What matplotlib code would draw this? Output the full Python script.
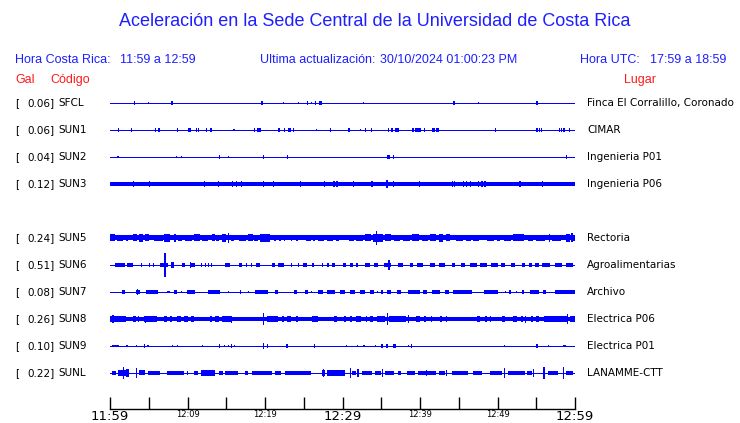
import matplotlib
matplotlib.use("Agg")
import matplotlib.pyplot as plt
import matplotlib.transforms as mtransforms

# station table
codes = ["SFCL", "SUN1", "SUN2", "SUN3", "SUN5", "SUN6", "SUN7", "SUN8", "SUN9", "SUNL"]
gal = ["0.06", "0.06", "0.04", "0.12", "0.24", "0.51", "0.08", "0.26", "0.10", "0.22"]
places = ["Finca El Corralillo, Coronado", "CIMAR", "Ingenieria P01", "Ingenieria P06",
          "Rectoria", "Agroalimentarias", "Archivo", "Electrica P06", "Electrica P01", "LANAMME-CTT"]
slots = [0, 1, 2, 3, 5, 6, 7, 8, 9, 10]          # SUN4 missing
base_amp = [0, 0, 0, 2.3, 2.5, 0, 0, 2.0, 0, 0]  # half-width of the noise band (px)

# bursts: (start minute, end minute, half amplitude px)
sfcl_bursts = [(3.2, 3.2, 1.3), (5.0, 5.0, 0.8), (8.0, 8.0, 1.3), (19.5, 19.8, 2.0), (22.4, 22.4, 0.8),
               (24.3, 24.3, 0.8), (25.5, 25.5, 1.3), (26.0, 26.0, 0.8), (26.5, 26.5, 1.3), (27.0, 27.3, 1.3),
               (32.7, 32.7, 0.8), (44.4, 44.4, 1.3), (47.5, 47.5, 0.8), (55.1, 55.1, 1.3)]
sun1_bursts = [(1.1, 1.1, 1.3), (2.7, 2.9, 1.3), (5.9, 5.9, 1.3), (6.2, 6.5, 1.3), (8.7, 8.7, 1.3),
               (10.0, 10.5, 1.3), (11.2, 11.2, 1.3), (11.4, 11.4, 1.3), (12.5, 12.5, 1.3), (12.9, 13.2, 1.3),
               (16.0, 16.0, 0.8), (18.6, 18.6, 1.3), (19.0, 19.5, 1.3), (21.8, 21.8, 1.3), (22.5, 22.5, 1.3),
               (23.0, 23.3, 1.3), (23.7, 23.7, 1.3), (26.6, 26.6, 0.8), (28.5, 28.5, 1.3), (30.7, 31.0, 1.3),
               (32.3, 32.3, 0.8), (33.0, 33.0, 1.3), (33.7, 33.7, 1.3), (35.9, 35.9, 1.3), (36.4, 36.4, 1.3),
               (36.8, 37.3, 1.3), (39.1, 39.1, 1.3), (39.4, 40.1, 1.3), (40.6, 40.6, 1.3), (41.6, 41.9, 1.3),
               (42.1, 42.4, 1.3), (49.7, 49.7, 1.3), (55.1, 55.1, 1.3), (55.4, 55.4, 1.3), (55.7, 55.7, 1.3),
               (58.0, 58.0, 1.3), (58.3, 58.3, 1.3), (58.4, 58.7, 1.3), (59.3, 59.3, 1.3)]
sun2_bursts = [(0.9, 1.2, 1.0), (8.6, 8.6, 0.8), (9.2, 9.2, 0.8), (14.1, 14.1, 1.3), (15.2, 15.4, 1.0),
               (19.8, 19.8, 1.3), (22.9, 22.9, 1.3), (35.8, 36.1, 2.0), (36.6, 36.6, 1.3), (58.9, 58.9, 1.3)]
sun3_bursts = [(3.0, 3.0, 2.3), (5.1, 5.1, 2.3), (12.2, 12.2, 2.3), (14.0, 14.0, 2.6), (15.8, 15.8, 3.0),
               (16.3, 16.3, 2.6), (17.0, 17.0, 2.6), (19.8, 19.8, 3.1), (21.1, 21.1, 2.3), (24.6, 24.6, 2.3),
               (27.7, 27.7, 2.3), (28.9, 28.9, 2.6), (29.3, 29.3, 2.3), (31.4, 31.4, 2.3), (33.8, 33.8, 2.3),
               (35.6, 35.9, 3.6), (36.6, 36.6, 2.8), (39.9, 39.9, 2.3), (44.2, 44.2, 2.3), (44.5, 44.5, 2.3),
               (45.6, 45.6, 2.3), (46.0, 46.0, 2.3), (46.5, 46.5, 2.3), (47.5, 47.5, 2.3), (48.0, 48.0, 2.3),
               (48.4, 48.4, 2.3), (52.9, 52.9, 2.3), (55.8, 55.8, 2.3)]
sun5_bursts = [(0.0, 0.6, 3.2), (0.9, 1.7, 3.0), (2.0, 2.3, 2.8), (3.0, 3.5, 3.2), (3.7, 4.3, 3.8), (4.5, 5.0, 3.2),
               (5.7, 6.8, 3.0), (7.0, 7.8, 3.3), (8.2, 8.5, 3.8), (8.8, 9.3, 3.0), (9.7, 10.6, 3.0), (10.9, 11.6, 3.2),
               (11.9, 12.7, 3.0), (13.1, 13.5, 3.2), (13.7, 14.0, 2.8), (14.4, 15.0, 3.3), (15.3, 15.3, 4.6),
               (15.6, 16.0, 3.0), (16.6, 17.6, 3.0), (17.8, 18.4, 3.2), (18.6, 19.1, 3.0), (19.4, 20.6, 3.3),
               (21.2, 21.4, 2.8), (21.8, 22.0, 2.8), (22.4, 22.6, 2.8), (23.3, 23.5, 2.8), (24.0, 24.2, 2.8),
               (25.3, 25.9, 3.0), (26.2, 26.5, 3.0), (26.9, 27.6, 3.0), (28.0, 28.8, 2.8), (29.1, 29.5, 3.0),
               (30.8, 31.5, 3.0), (31.8, 32.6, 3.0), (32.9, 33.7, 3.2), (33.9, 35.2, 4.0), (34.4, 34.4, 6.5),
               (35.5, 36.2, 3.2), (36.6, 37.4, 3.0), (37.8, 38.7, 3.0), (39.0, 39.9, 3.2), (40.2, 41.0, 3.0),
               (41.3, 42.0, 3.2), (42.4, 43.0, 3.6), (43.3, 43.9, 3.2), (44.6, 45.5, 3.0), (45.9, 46.6, 3.0),
               (46.9, 47.6, 3.0), (48.6, 49.6, 2.8), (49.9, 50.3, 2.8), (50.8, 51.8, 3.0), (52.0, 53.4, 3.2),
               (53.9, 54.6, 3.0), (55.0, 56.1, 3.0), (56.6, 56.8, 3.8), (57.0, 58.2, 3.0), (58.9, 59.4, 3.3),
               (59.6, 59.6, 4.2), (59.7, 60.0, 3.0)]
sun6_bursts = [(0.6, 1.9, 1.3), (2.2, 3.0, 1.3), (4.1, 4.1, 1.3), (5.1, 5.1, 1.3), (5.6, 5.6, 1.3), (6.5, 7.5, 2.0),
               (7.1, 7.1, 12.0), (7.9, 8.2, 3.0), (9.3, 9.7, 1.3), (10.3, 11.0, 1.5), (10.4, 10.4, 2.7),
               (11.8, 11.8, 1.3), (12.3, 12.3, 1.8), (12.7, 12.7, 1.3), (13.1, 13.1, 1.8), (14.8, 15.5, 1.3),
               (16.6, 17.0, 1.3), (17.6, 17.6, 1.3), (18.3, 18.3, 1.3), (18.9, 19.4, 1.3), (20.9, 21.3, 1.3),
               (21.7, 22.4, 1.3), (23.4, 23.4, 1.3), (24.3, 24.3, 1.3), (24.9, 25.4, 1.3), (26.2, 26.2, 1.3),
               (27.3, 27.5, 1.3), (28.0, 28.3, 1.3), (28.7, 29.0, 1.3), (30.1, 30.5, 1.3), (31.0, 31.4, 1.3),
               (31.8, 32.0, 1.3), (32.9, 33.5, 1.3), (34.0, 34.6, 1.3), (35.3, 36.3, 2.0), (36.0, 36.0, 4.5),
               (37.2, 37.8, 1.3), (38.7, 39.1, 1.3), (39.6, 40.4, 1.3), (41.3, 41.9, 1.3), (42.4, 43.2, 1.3),
               (44.1, 44.5, 1.3), (45.3, 45.8, 2.0), (46.5, 47.3, 1.3), (47.7, 48.6, 1.3), (49.2, 50.1, 1.3),
               (50.5, 51.0, 1.3), (51.8, 52.3, 1.3), (53.1, 53.5, 1.3), (54.0, 54.4, 1.3), (54.8, 55.3, 1.3),
               (55.8, 56.8, 1.3), (57.4, 58.3, 2.0), (58.9, 59.8, 1.3)]
sun7_bursts = [(1.5, 1.9, 1.3), (3.3, 3.9, 1.3), (3.5, 3.5, 2.3), (4.7, 6.2, 1.3), (7.3, 7.7, 1.0), (8.2, 8.6, 1.3),
               (9.2, 9.2, 1.0), (9.9, 11.0, 1.3), (12.7, 14.2, 1.3), (15.3, 15.3, 1.0), (16.8, 16.8, 1.3),
               (17.9, 17.9, 1.0), (18.7, 20.4, 1.3), (21.3, 21.7, 1.3), (23.7, 24.1, 1.3), (25.2, 25.6, 1.3),
               (26.0, 26.0, 1.0), (26.9, 27.5, 1.3), (28.0, 29.0, 1.3), (28.5, 28.5, 2.0), (29.7, 30.3, 2.0),
               (31.0, 31.6, 1.3), (32.3, 32.9, 1.3), (33.5, 34.0, 1.3), (34.5, 34.5, 1.0), (35.1, 35.1, 1.3),
               (35.7, 36.3, 1.3), (37.0, 37.6, 1.3), (38.5, 40.0, 1.3), (40.4, 40.9, 1.3), (41.5, 42.6, 1.3),
               (43.2, 43.7, 1.3), (44.3, 46.7, 1.3), (48.2, 50.1, 1.3), (51.0, 51.0, 1.0), (51.6, 51.6, 1.3),
               (52.5, 52.5, 1.0), (53.3, 53.3, 1.3), (54.2, 55.3, 1.3), (55.9, 56.3, 1.3), (57.4, 60.0, 1.3)]
sun8_bursts = [(0.0, 2.0, 2.6), (0.4, 0.4, 3.6), (3.0, 3.3, 2.6), (3.6, 3.8, 2.6), (4.4, 6.0, 2.6), (4.6, 4.6, 3.2),
               (7.0, 7.3, 2.6), (7.7, 8.0, 2.6), (8.6, 9.2, 2.6), (9.6, 10.0, 2.6), (10.4, 10.8, 2.6),
               (12.9, 13.2, 2.6), (13.6, 14.0, 2.6), (14.4, 15.6, 2.6), (15.7, 15.7, 3.2), (19.8, 19.8, 6.0),
               (20.2, 21.7, 2.6), (22.2, 22.5, 2.6), (22.9, 23.4, 2.6), (24.0, 24.2, 2.6), (26.1, 26.8, 2.6),
               (28.9, 29.3, 2.6), (30.2, 30.5, 2.6), (31.0, 31.2, 2.6), (31.8, 32.4, 2.6), (33.0, 33.2, 2.6),
               (33.6, 34.0, 2.6), (34.4, 35.5, 2.6), (35.8, 35.8, 6.0), (36.0, 38.2, 2.6), (38.5, 38.5, 3.4),
               (39.5, 40.0, 2.6), (40.5, 40.8, 2.6), (41.4, 41.6, 2.6), (42.6, 42.9, 2.6), (43.3, 43.5, 2.6),
               (47.3, 47.8, 2.6), (48.4, 48.6, 2.6), (49.0, 49.2, 2.6), (50.6, 51.0, 2.6), (52.0, 52.5, 2.6),
               (53.0, 53.3, 2.6), (53.6, 53.6, 3.2), (54.3, 54.6, 2.6), (55.0, 55.3, 2.6), (56.0, 59.0, 2.6),
               (59.0, 59.0, 4.5), (59.3, 60.0, 2.6)]
sun9_bursts = [(0.2, 1.1, 0.8), (2.2, 2.2, 0.8), (3.4, 3.4, 0.8), (4.5, 4.5, 1.3), (4.9, 4.9, 0.8), (8.1, 8.1, 0.8),
               (8.7, 8.7, 0.8), (11.9, 11.9, 0.8), (14.1, 14.1, 1.3), (14.8, 14.8, 0.8), (15.3, 15.3, 0.8),
               (15.7, 15.7, 1.3), (16.1, 16.1, 0.8), (19.8, 19.8, 2.7), (20.3, 20.3, 1.3), (22.7, 23.0, 1.3),
               (26.4, 26.4, 1.3), (30.4, 30.6, 0.8), (31.9, 31.9, 0.8), (32.6, 32.9, 0.8), (34.3, 34.3, 0.8),
               (35.1, 35.1, 1.3), (35.6, 35.9, 2.0), (36.5, 36.9, 1.3), (38.5, 38.5, 0.8), (38.9, 38.9, 1.3),
               (50.9, 50.9, 0.8), (55.1, 55.1, 1.3), (56.6, 56.6, 0.8), (58.5, 58.9, 1.0)]
sunl_bursts = [(0.2, 0.8, 2.0), (1.0, 2.4, 2.7), (1.7, 1.7, 5.3), (2.0, 2.5, 3.5), (3.4, 3.4, 4.5), (3.7, 4.5, 2.2),
               (4.9, 6.5, 2.0), (7.3, 9.5, 2.0), (10.0, 10.0, 1.5), (10.9, 11.3, 2.0), (11.8, 13.5, 2.7),
               (14.0, 14.6, 2.0), (14.9, 16.5, 2.0), (17.4, 17.8, 2.0), (18.3, 20.9, 2.0), (21.3, 22.1, 2.0),
               (22.6, 26.0, 2.0), (27.3, 27.8, 2.5), (27.5, 27.5, 3.5), (28.0, 30.3, 2.7), (31.0, 31.0, 4.5),
               (31.2, 31.8, 2.0), (32.0, 32.0, 3.5), (32.5, 33.8, 2.0), (34.2, 35.0, 2.0), (35.2, 35.2, 3.5),
               (35.5, 36.6, 2.0), (37.2, 37.6, 2.0), (38.3, 39.4, 2.0), (39.8, 42.0, 2.0), (40.8, 40.8, 3.0),
               (42.4, 43.2, 2.0), (43.4, 43.4, 3.0), (44.1, 46.2, 2.0), (46.8, 48.0, 2.0), (49.0, 50.6, 2.0),
               (50.9, 50.9, 4.5), (51.4, 53.5, 2.0), (53.8, 54.4, 2.0), (54.6, 54.6, 3.5), (56.0, 56.0, 5.3),
               (56.5, 57.8, 2.0), (58.5, 58.5, 5.3), (58.9, 59.7, 2.0)]
bursts = [sfcl_bursts, sun1_bursts, sun2_bursts, sun3_bursts, sun5_bursts,
          sun6_bursts, sun7_bursts, sun8_bursts, sun9_bursts, sunl_bursts]

tick_minutes = list(range(0, 61, 5))
tick_labels = ["11:59", "", "12:09", "", "12:19", "", "12:29", "", "12:39", "", "12:49", "", "12:59"]
big_ticks = ["11:59", "12:29", "12:59"]

BLUE = "#0000ff"
TXTBLUE = "#1e1eff"
RED = "#ff1a1a"
W, H = 740, 423
PX = 27.0  # pixels per row slot

fig = plt.figure(figsize=(7.4, 4.23), dpi=100)
fig.patch.set_facecolor("white")

# figure pixel helper (y measured from top)
def fx(x):
    return x / W

def fy(y):
    return 1 - y / H

fig.text(fx(375), fy(22), "Aceleración en la Sede Central de la Universidad de Costa Rica",
         ha="center", va="center", color=TXTBLUE, fontsize=13, family="Liberation Sans")
hdr = dict(va="center", color=TXTBLUE, fontsize=9, family="Liberation Sans")
fig.text(fx(15), fy(60), "Hora Costa Rica:", **hdr)
fig.text(fx(120), fy(60), "11:59 a 12:59", **hdr)
fig.text(fx(260), fy(60), "Ultima actualización:", **hdr)
fig.text(fx(380), fy(60), "30/10/2024 01:00:23 PM", **hdr)
fig.text(fx(580), fy(60), "Hora UTC:", **hdr)
fig.text(fx(650), fy(60), "17:59 a 18:59", **hdr)
red = dict(va="center", color=RED, fontsize=9, family="Liberation Sans")
fig.text(fx(15), fy(80), "Gal", **red)
fig.text(fx(50), fy(80), "Código", **red)
fig.text(fx(656), fy(80), "Lugar", ha="right", **red)

ax_bottom = 409
ax_top = 90
ax = fig.add_axes([fx(110), (H - ax_bottom) / H, (575 - 110) / W, (ax_bottom - ax_top) / H])
ax.set_xlim(0, 60)
ax.set_ylim((ax_bottom - 103) / PX, (ax_top - 103) / PX)
ax.patch.set_alpha(0)

for code, g, place, s, b, bl in zip(codes, gal, places, slots, base_amp, bursts):
    ax.plot([0, 60], [s, s], color=BLUE, lw=0.72, solid_capstyle="butt", antialiased=False)
    if b > 0:
        ax.fill_between([0, 60], s - b / PX, s + b / PX, color=BLUE, lw=0, antialiased=False)
    xs = [(t0 + t1) / 2 for t0, t1, h in bl]
    ws = [max(t1 - t0, 0.16) for t0, t1, h in bl]
    hs = [2 * (h + 0.3) / PX for t0, t1, h in bl]
    bots = [s - (h + 0.3) / PX for t0, t1, h in bl]
    ax.bar(xs, hs, width=ws, bottom=bots, color=BLUE, linewidth=0, antialiased=False)

    tr = mtransforms.blended_transform_factory(fig.transFigure, ax.transData)
    lab = dict(va="center", fontsize=7.5, color="black", transform=tr, family="DejaVu Sans")
    ax.text(fx(15), s, "[", **lab)
    ax.text(fx(55), s, g + "]", ha="right", **lab)
    ax.text(fx(58), s, code, **lab)
    ax.text(fx(587), s, place, **lab)

for side in ["top", "left", "right"]:
    ax.spines[side].set_visible(False)
ax.spines["bottom"].set_linewidth(1.0)
ax.set_yticks([])
ax.set_xticks(tick_minutes)
ax.set_xticklabels(tick_labels)
ax.tick_params(axis="x", direction="in", length=9, width=1.0, pad=1)
for lbl in ax.get_xticklabels():
    if lbl.get_text() in big_ticks:
        lbl.set_fontsize(9.5)
    else:
        lbl.set_fontsize(6)

fig.savefig("out.png", dpi=100, facecolor="white")
